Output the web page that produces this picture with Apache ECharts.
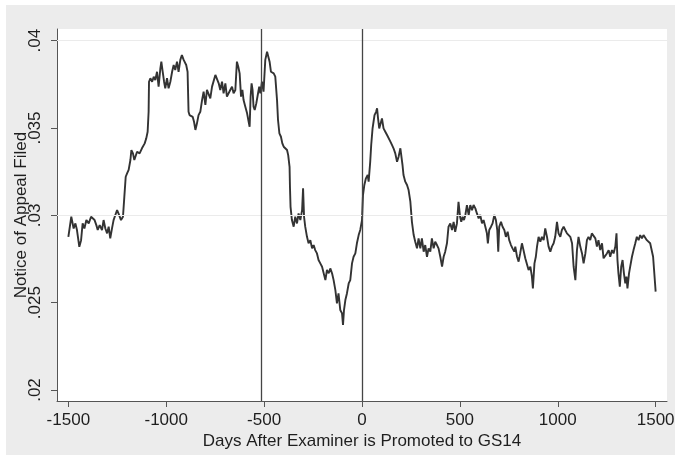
<!DOCTYPE html>
<html>
<head>
<meta charset="utf-8">
<script src="https://cdn.jsdelivr.net/npm/echarts@6/dist/echarts.min.js"></script>
<style>
  html, body { margin: 0; padding: 0; background: #ffffff; }
  #chart { position: absolute; left: 6px; top: 5px; width: 669px; height: 450px; }
</style>
</head>
<body>
<div id="chart"></div>
<script>
// Days relative to the GS14 promotion date
const days = [
  -1500, -1485, -1473, -1464, -1456, -1444, -1435, -1427, -1418, -1408,
  -1396, -1384, -1374, -1366, -1357, -1350, -1340, -1328, -1320, -1311,
  -1302, -1294, -1286, -1277, -1269, -1260, -1251, -1243, -1231, -1221,
  -1214, -1207, -1200, -1192, -1183, -1178, -1170, -1163, -1149, -1136,
  -1124, -1110, -1102, -1095, -1090, -1088, -1081, -1072, -1064, -1056,
  -1047, -1039, -1030, -1025, -1018, -1011, -1005, -996, -988, -979,
  -970, -962, -954, -945, -937, -928, -920, -911, -903, -898,
  -891, -886, -881, -872, -865, -858, -851, -843, -835, -826,
  -817, -809, -800, -792, -783, -775, -766, -758, -749,
  -741, -732, -724, -715, -707, -698, -690, -681, -673, -664,
  -656, -647, -639, -632, -625, -618, -611, -605, -596, -587,
  -579, -574, -569, -564, -559, -554, -548, -540, -531, -525,
  -519, -511, -503, -494, -485, -477, -472, -465, -458, -451,
  -443, -434, -429, -422, -414, -407, -400, -392, -383, -377, -370,
  -368, -365, -358, -349, -341, -332, -324, -315, -306, -301,
  -296, -290, -281, -273, -264, -255, -247, -239, -230, -222,
  -213, -204, -196, -187, -179, -170, -162, -153, -145, -136,
  -128, -120, -111, -102, -97, -92, -85, -77, -68, -60,
  -51, -43, -34, -26, -17, -9, 0,
  5, 12, 20, 29, 34, 42, 47, 54, 59, 64,
  72, 77, 82, 88, 93, 102, 110, 119, 128, 136,
  145, 153, 161, 170, 179, 187, 196, 201, 207, 212,
  221, 230, 238, 247, 255, 264, 272, 281, 289, 298,
  306, 315, 323, 332, 340, 349, 357, 366, 374, 383, 391,
  400, 409, 417, 425, 434, 442, 451, 460, 468, 476,
  485, 493, 501, 507, 514, 521, 528, 536, 545, 553,
  562, 570, 579, 587, 596, 604, 613, 621, 630, 638,
  643, 650, 659, 667, 676, 684, 691, 696, 701, 710,
  718, 727, 735, 744, 752, 761, 769, 778,
  783, 792, 800, 808, 817, 825, 834, 843, 851, 860,
  868, 873, 881, 888, 894, 902, 911, 919, 928, 936,
  945, 953, 962, 970, 979, 987, 996, 1004, 1013, 1021,
  1030, 1038, 1047, 1055, 1064, 1073, 1081, 1090, 1098, 1106,
  1115, 1124, 1132, 1141, 1149, 1157,
  1166, 1174, 1183, 1192, 1200, 1208, 1217, 1226, 1234, 1243,
  1251, 1260, 1268, 1277, 1285, 1294, 1300, 1305, 1310, 1317,
  1324, 1331, 1338, 1345, 1351, 1356, 1364, 1370, 1379, 1387,
  1396, 1404, 1413, 1421, 1430, 1438, 1447, 1455, 1464, 1472,
  1481, 1487, 1492, 1497, 1500
];

// Share of applications with a notice of appeal filed
const appealRate = [
  .02877, .02992, .02925, .02954, .02916, .02820, .02858, .02954, .02925, .02973,
  .02954, .02992, .03002, .02973, .02944, .02916, .02944, .02916, .02973, .02925,
  .02897, .02935, .02868, .02925, .02973, .03002, .03030, .03008, .02973, .02992,
  .03107, .03221, .03240, .03260, .03317, .03374, .03355, .03317, .03364, .03355,
  .03384, .03412, .03441, .03479, .03593, .03765, .03785, .03765, .03794, .03775,
  .03822, .03737, .03842, .03880, .03822, .03765, .03727, .03785, .03727, .03765,
  .03822, .03861, .03832, .03880, .03822, .03890, .03918, .03890, .03899, .03861,
  .03822, .03593, .03574, .03584, .03564, .03536, .03489, .03527, .03574, .03593,
  .03660, .03708, .03632, .03718, .03727, .03670, .03737, .03727, .03804,
  .03794, .03756, .03718, .03765, .03699, .03756, .03680, .03670, .03718, .03737,
  .03699, .03718, .03880, .03851, .03813, .03680, .03718, .03660, .03622, .03584,
  .03536, .03507, .03680, .03756, .03718, .03622, .03603, .03641, .03699, .03737,
  .03699, .03765, .03708, .03890, .03937, .03928, .03880, .03822, .03832, .03813,
  .03794, .03660, .03546, .03470, .03450, .03412, .03393, .03403, .03374, .03345, .03278,
  .03164, .03049, .02973, .02935, .02992, .02954, .03011, .02973, .03030, .03155,
  .02992, .02935, .02877, .02840, .02858, .02811, .02830, .02801, .02782, .02744,
  .02725, .02706, .02696, .02629, .02687, .02668, .02696, .02668, .02629, .02572,
  .02496, .02553, .02458, .02439, .02372, .02458, .02515, .02553, .02610, .02629,
  .02725, .02763, .02782, .02840, .02887, .02916, .02973,
  .03116, .03174, .03212, .03231, .03193, .03307, .03403, .03498, .03536, .03574,
  .03593, .03613, .03555, .03498, .03517, .03555, .03498, .03479, .03460, .03450,
  .03422, .03403, .03384, .03355, .03307, .03336, .03384, .03374, .03288, .03231,
  .03193, .03174, .03145, .03078, .02963, .02887, .02849, .02811, .02868, .02811,
  .02868, .02792, .02830, .02763, .02811, .02792, .02868, .02811, .02849, .02830, .02811,
  .02763, .02706, .02763, .02792, .02840, .02935, .02954, .02916, .02963, .02906,
  .02954, .03078, .02992, .02963, .02992, .02973, .03002, .03059, .03002, .03059,
  .03030, .03059, .03040, .03011, .02983, .03002, .02954, .02973, .02935, .02897,
  .02840, .02916, .02935, .02954, .03002, .02973, .02916, .02792, .02935, .02963,
  .02935, .02916, .02877, .02906, .02858, .02830, .02811, .02792,
  .02821, .02763, .02735, .02782, .02840, .02801, .02754, .02744, .02687, .02706,
  .02649, .02582, .02725, .02763, .02821, .02877, .02849, .02877, .02858, .02925,
  .02877, .02821, .02792, .02821, .02840, .02877, .02963, .02897, .02877, .02916,
  .02935, .02916, .02897, .02906, .02877, .02840, .02706, .02629, .02801, .02877,
  .02821, .02782, .02725, .02782, .02858, .02877,
  .02858, .02897, .02906, .02868, .02821, .02858, .02801, .02840, .02754, .02744,
  .02782, .02801, .02763, .02801, .02782, .02821, .02897, .02744, .02668, .02592,
  .02706, .02744, .02668, .02610, .02649, .02582, .02668, .02706, .02763, .02801,
  .02840, .02877, .02858, .02887, .02868, .02887, .02877, .02858, .02868, .02840,
  .02830, .02763, .02687, .02610, .02563
];

const xTicks = [-1500, -1000, -500, 0, 500, 1000, 1500];
const yTicks = [0.02, 0.025, 0.03, 0.035, 0.04];
const yTickLabels = ['.02', '.025', '.03', '.035', '.04'];
const referenceDays = [-516, 0];

const textColor = '#1e1e1e';
const font = 'Liberation Sans, Arial, Helvetica, sans-serif';

function yLabel(v) {
  let best = 0;
  yTicks.forEach((t, i) => { if (Math.abs(t - v) < Math.abs(yTicks[best] - v)) best = i; });
  return yTickLabels[best];
}

const chart = echarts.init(document.getElementById('chart'), null, { renderer: 'canvas' });

chart.setOption({
  animation: false,
  backgroundColor: '#ececec',
  textStyle: { fontFamily: font },
  grid: {
    left: 51, right: 8, top: 24, bottom: 54,
    containLabel: false,
    outerBoundsMode: 'none',
    show: true, backgroundColor: '#ffffff', borderWidth: 0
  },
  xAxis: {
    type: 'value',
    min: -1558, max: 1558,
    name: 'Days After Examiner is Promoted to GS14',
    nameLocation: 'middle',
    nameGap: 32,
    nameMoveOverlap: false,
    nameTextStyle: { fontSize: 17, color: textColor, fontFamily: font },
    axisLine: { onZero: false, lineStyle: { color: '#555555', width: 1 } },
    axisTick: { customValues: xTicks, length: 6, lineStyle: { color: '#555555', width: 1 } },
    axisLabel: {
      customValues: xTicks, margin: 11, fontSize: 17, color: textColor, fontFamily: font,
      formatter: v => String(v)
    },
    splitLine: { show: false }
  },
  yAxis: {
    type: 'value',
    min: 0.01937, max: 0.04067,
    name: 'Notice of Appeal Filed',
    nameLocation: 'middle',
    nameGap: 27,
    nameMoveOverlap: false,
    nameTextStyle: { fontSize: 17, color: textColor, fontFamily: font },
    axisLine: { show: true, onZero: false, lineStyle: { color: '#555555', width: 1 } },
    axisTick: { show: true, customValues: yTicks, length: 6, lineStyle: { color: '#555555', width: 1 } },
    axisLabel: {
      customValues: yTicks, rotate: 90, margin: 13,
      fontSize: 17, color: textColor, fontFamily: font,
      formatter: yLabel
    },
    splitLine: { show: false }
  },
  series: [
    {
      // horizontal grid lines behind the data
      type: 'line',
      data: [],
      z: 1,
      silent: true,
      markLine: {
        silent: true,
        symbol: ['none', 'none'],
        label: { show: false },
        lineStyle: { type: 'solid', color: '#ebebeb', width: 1 },
        data: yTicks.slice(1).map(v => ({ yAxis: v }))
      }
    },
    {
      type: 'line',
      data: days.map((d, i) => [d, appealRate[i]]),
      showSymbol: false,
      symbol: 'none',
      z: 3,
      lineStyle: { color: '#333333', width: 1.9 },
      markLine: {
        silent: true,
        symbol: ['none', 'none'],
        label: { show: false },
        lineStyle: { type: 'solid', color: '#454545', width: 1.3 },
        data: referenceDays.map(d => ({ xAxis: d }))
      }
    }
  ]
});
</script>
</body>
</html>
